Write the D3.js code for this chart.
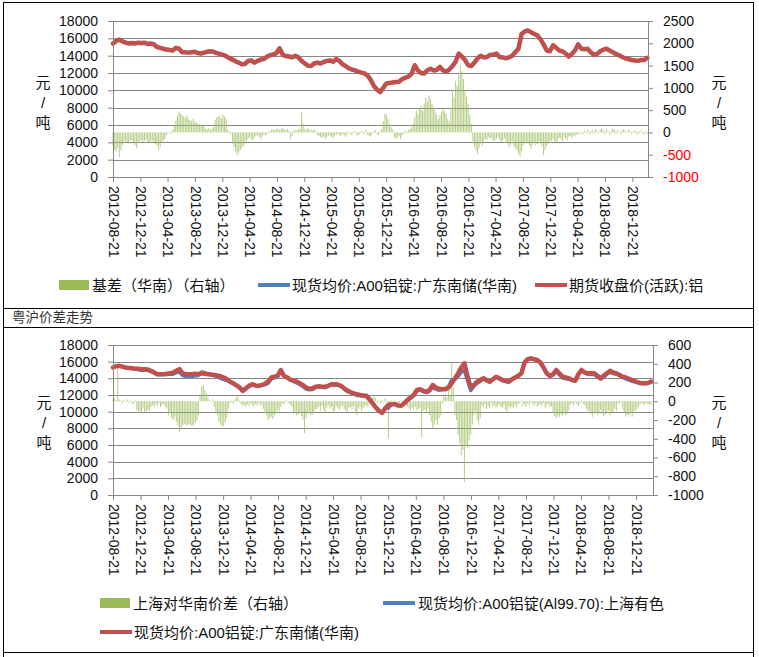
<!DOCTYPE html>
<html><head><meta charset="utf-8">
<script src="https://cdn.jsdelivr.net/npm/d3@7/dist/d3.min.js"></script>
<style>
body{margin:0;background:#fff}
svg{display:block}
text{font-family:"Liberation Sans","Noto Sans CJK SC",sans-serif}
</style>
</head><body>
<svg id="c" width="759" height="657"></svg>
<script>
// ---------------- data ----------------
const startDate = "2012-08-21";           // first observation
const lineStepDays = 14;                  // price series: one value every two weeks
const barStepDays = 7;                    // spread series: one value per week

const tickLabels = ["2012-08-21","2012-12-21","2013-04-21","2013-08-21","2013-12-21",
  "2014-04-21","2014-08-21","2014-12-21","2015-04-21","2015-08-21","2015-12-21",
  "2016-04-21","2016-08-21","2016-12-21","2017-04-21","2017-08-21","2017-12-21",
  "2018-04-21","2018-08-21","2018-12-21"];

const leftTicks = [0,2000,4000,6000,8000,10000,12000,14000,16000,18000];
const rightTicksTop = [-1000,-500,0,500,1000,1500,2000,2500];
const rightTicksBottom = [-1000,-800,-600,-400,-200,0,200,400,600];

// 期货收盘价(活跃):铝  (biweekly)
const futures = [
15400,15700,15850,15650,15500,15400,15450,15400,15500,15450,
15500,15350,15400,15300,15000,14900,14800,14700,14650,14600,
14900,14800,14400,14400,14350,14400,14450,14300,14250,14350,
14450,14500,14450,14300,14200,14100,13950,13700,13550,13350,
13200,13000,13050,13400,13450,13200,13400,13550,13600,13900,
14050,14150,14300,14850,14100,13950,13900,13800,14000,13800,
13400,13100,12850,12800,13100,13200,13100,13250,13400,13450,
13300,13600,13400,13000,12800,12550,12400,12300,12150,12050,
11950,11700,11200,10500,10100,9800,10300,10800,10850,10900,
10950,11000,11300,11450,11600,11900,12900,12300,12000,11950,
12300,12500,12300,12350,12700,12300,12150,12400,12800,13300,
14250,13900,13500,12900,12800,13200,13700,14000,13800,13850,
14100,14100,14250,13850,13800,13700,13800,14000,14400,14800,
16500,16800,16900,16700,16500,16350,15900,15300,14600,14500,
15200,14900,14600,14500,14250,13900,14200,14600,15300,14800,
14750,14800,14400,14100,14200,14500,14700,14800,14600,14400,
14200,14050,13850,13700,13600,13500,13450,13400,13500,13500,
13750];

// 现货均价:A00铝锭:广东南储(华南)  (biweekly)
const spotGD = [
15300,15450,15500,15400,15300,15250,15200,15150,15150,15100,
15100,15050,14900,14700,14500,14500,14500,14550,14600,14700,
14900,15100,14600,14500,14500,14500,14550,14500,14600,14550,
14500,14450,14400,14350,14250,14100,13900,13600,13400,13150,
12900,12500,12800,13100,13300,13150,13100,13200,13350,13600,
14100,14200,14300,15000,14300,14100,13850,13750,13600,13400,
13200,12900,12750,12800,13000,13050,13000,13000,13100,13300,
13300,13250,13100,12800,12550,12350,12200,12100,12000,11950,
11900,11500,11000,10500,10100,9850,10400,10800,10900,10900,
10750,10700,11000,11400,11700,12000,12600,12700,12500,12400,
12600,13200,12900,12750,12700,12700,12900,13400,14000,14600,
15300,15800,14200,12900,13200,13600,13800,14000,13800,13600,
13900,14200,14000,13800,13700,13600,13900,14100,14300,14600,
15900,16300,16400,16300,16200,15900,15300,14600,14300,14500,
15000,14600,14200,14100,14000,13800,13700,14500,15000,14700,
14600,14600,14600,14300,14000,14300,14600,14900,14700,14600,
14400,14200,14100,13950,13800,13650,13500,13400,13400,13450,
13600];

// 基差（华南） (weekly, right axis)
const basis = [
-300,-380,-420,-350,-550,-400,-280,
-200,-180,-220,-250,-190,-170,-230,-280,-360,-240,-200,-180,-210,-190,-160,-220,-250,-200,-180,-230,-260,-300,-400,-330,-220,-180,-150,
-60,-20,10,-30,
60,150,260,380,470,
430,400,360,330,380,300,280,260,300,240,220,200,180,150,160,130,
80,60,100,70,90,120,
280,340,360,380,320,400,360,300,
60,20,-30,
-250,-330,-420,-510,-460,-400,-350,-300,-250,-200,-150,
-100,-150,-180,-120,-80,-60,-100,-140,-90,-50,-70,-40,-20,
40,60,80,50,70,90,60,80,100,60,50,70,40,
-150,-80,
40,60,50,70,80,
450,200,
80,60,100,50,70,40,60,30,
-60,-80,-100,-120,-90,-150,-110,-80,-60,-100,-130,-70,-50,-40,
-50,-80,-30,-60,-100,-40,20,-30,-60,-20,40,-50,-70,-30,30,-20,-40,60,-60,-80,-100,-30,20,50,-40,-60,30,80,
250,420,380,300,200,120,60,
-100,-150,-120,-80,-150,-60,-30,40,-20,60,80,120,
200,350,490,420,550,600,480,650,790,700,830,760,640,560,490,400,300,
380,450,530,470,420,300,250,500,
940,800,1160,1050,1300,1500,1380,1200,940,800,640,400,190,
-200,-330,-400,-480,-350,-250,-300,-200,-140,-180,-100,-150,-120,-200,-180,-140,-100,-160,-220,-180,-130,-200,-250,-330,-280,-200,-300,-350,-400,-480,-550,-420,-300,-250,
-200,-250,-300,-360,-280,-220,-300,-260,-200,-250,-320,-510,-400,-300,-250,-200,-180,
-150,-200,-250,-180,-120,-150,-200,-100,-130,-180,-100,-80,-120,-60,-90,-50,-40,
-30,20,-50,40,-20,60,-40,30,50,-30,80,40,-20,60,100,50,-40,70,30,-60,40,90,60,-30,50,20,-50,40,80,30,-20,60,40,-40,20,50,-30,-60,30,40,-20,-50,20,-30];

// 上海对华南价差 (weekly, right axis)  = 上海 - 华南
const spreadSH = [
20,30,10,350,20,
10,-20,15,-10,20,-15,10,-20,-30,10,
-95,-120,-100,-130,-80,-110,-125,-90,-100,-60,
-40,-60,-30,-50,-20,-60,-45,-30,
-60,-80,-150,-120,-180,-200,-170,-220,-260,-325,-300,-260,-240,-250,-260,-240,-255,-260,-250,-230,-200,-150,
60,155,170,120,85,40,
10,-10,20,
-60,-110,-150,-220,-250,-270,-260,-220,-180,-80,
-20,10,-30,20,40,50,-10,-30,-50,-40,-60,-30,-50,-20,-40,-60,-30,-45,-20,-50,-30,
-80,-110,-150,-200,-180,-165,-190,-150,-120,-95,-110,-60,
-20,-30,10,-10,-20,-40,-60,
-130,-110,-150,-140,-120,-160,-200,-340,-180,-130,-110,-150,-140,-120,-90,
-80,-60,-100,-50,-90,-120,-70,-40,-80,-60,-110,-100,-50,-70,-90,-60,-40,-80,-100,-120,-70,-60,-90,-50,-110,-150,-80,-60,-100,-70,-50,-40,-60,
-20,20,40,50,30,-20,10,-30,20,-10,30,-20,
-395,
-20,10,-30,20,-10,-40,-20,10,-30,-20,-40,
-60,-80,-100,-70,-90,-60,-100,-80,-70,
-380,
-100,-90,-120,-80,
-150,-220,-290,-250,-200,-250,-180,-150,
-30,50,80,40,120,60,420,150,
-150,-200,-360,-450,-575,-520,-860,-470,-500,-420,-360,-250,-150,-100,-200,-250,-180,
-40,-60,-30,-80,-50,-70,-20,-60,-40,-80,-50,-30,-60,-70,-40,-90,-110,-60,-80,-50,-70,-40,-60,-30,
-20,10,-50,-30,-60,-20,-40,10,-30,-50,-20,-60,-40,-30,-50,-20,-70,-40,-30,-60,-50,
-120,-160,-180,-150,-170,-140,-160,-120,-150,-130,-100,
-30,-20,-40,-10,-30,-50,-20,10,-30,-40,
-80,-120,-100,-140,-165,-130,-110,-150,-120,-90,-130,-160,-140,-110,-100,-150,-130,-120,-80,-100,
-20,-30,-10,
-90,-120,-165,-140,-150,-130,-165,-120,-100,-80,-60,
-30,-20,-40,-30,-20,-30,-40,-30];

// ---------------- drawing ----------------
const COL = {red:"#c0504d", blue:"#4f81bd", green:"#9bbb59", grid:"#878787", text:"#111"};
const svg = d3.select("#c");
const parse = d3.utcParse("%Y-%m-%d");
const t0 = parse(startDate);
const lineDate = j => d3.utcDay.offset(t0, lineStepDays * j);
const barDate = k => d3.utcDay.offset(t0, barStepDays * k);

// frames
const frame = svg.append("g").attr("stroke","#000").attr("stroke-width",1);
[[3.5,2,3.5,657],[753.5,2,753.5,657],[3,2.5,754,2.5],[3,308.5,754,308.5],[3,327.5,754,327.5],[3,652.5,754,652.5]]
  .forEach(l => frame.append("line").attr("x1",l[0]).attr("y1",l[1]).attr("x2",l[2]).attr("y2",l[3]));
svg.append("text").attr("x",12).attr("y",322).attr("font-size",13.5).attr("fill","#333").text("粤沪价差走势");

function drawPanel(p) {
  const x = d3.scaleUtc().domain([t0, parse(p.xEnd)]).range([p.x0, p.x1]);
  const yL = d3.scaleLinear().domain([0,18000]).range([p.y1, p.y0]);
  const yR = d3.scaleLinear().domain(p.rDomain).range([p.y1, p.y0]);
  const g = svg.append("g");

  g.append("g").selectAll("line").data(leftTicks).join("line")
    .attr("x1",p.x0).attr("x2",p.x1)
    .attr("y1",d=>Math.round(yL(d))+0.5).attr("y2",d=>Math.round(yL(d))+0.5)
    .attr("stroke",COL.grid).attr("stroke-width",1);

  g.append("g").selectAll("rect").data(p.bars).join("rect")
    .attr("x",(d,k)=>x(barDate(k))-0.5).attr("width",1.0)
    .attr("y",d=>Math.min(yR(d),yR(0))).attr("height",d=>Math.abs(yR(d)-yR(0)))
    .attr("fill",COL.green).attr("opacity",0.75);

  p.lines.forEach(l => {
    g.append("path").datum(l.data)
      .attr("d", d3.line().x((d,j)=>x(lineDate(j))).y((d,j)=>yL(l.value(d,j))))
      .attr("fill","none").attr("stroke",l.color).attr("stroke-width",l.width)
      .attr("stroke-linejoin","round").attr("stroke-linecap","round");
  });

  const styleAxis = a => {
    a.selectAll("path,line").attr("stroke",COL.grid);
    a.selectAll("text").attr("font-size",14).attr("fill",COL.text)
      .attr("font-family",'"Liberation Sans",sans-serif');
  };
  const ax = g.append("g").attr("transform",`translate(${p.x0},0)`)
    .call(d3.axisLeft(yL).tickValues(leftTicks).tickSize(5).tickSizeOuter(0).tickPadding(10).tickFormat(d=>String(d)));
  styleAxis(ax);
  const ar = g.append("g").attr("transform",`translate(${p.x1},0)`)
    .call(d3.axisRight(yR).tickValues(p.rTicks).tickSize(5).tickSizeOuter(0).tickPadding(10).tickFormat(d=>String(d)));
  styleAxis(ar);
  ar.selectAll("text").attr("fill",d=>p.rColor(d));
  const ab = g.append("g").attr("transform",`translate(0,${p.y1})`)
    .call(d3.axisBottom(x).tickValues(tickLabels.map(parse)).tickSize(5).tickSizeOuter(0).tickFormat(d3.utcFormat("%Y-%m-%d")));
  styleAxis(ab);
  ab.select(".domain").attr("d",`M${p.x0},0.5H${p.x1}`);
  ab.selectAll("text").attr("transform","rotate(90)").attr("y",0).attr("x",9)
    .attr("dy","0.35em").style("text-anchor","start");

  // unit labels 元/吨
  [p.unitLX, p.unitRX].forEach(ux => {
    ["元","/","吨"].forEach((ch,i) => {
      g.append("text").attr("x",ux).attr("y",p.unitY + i*20).attr("text-anchor","middle")
        .attr("font-size",15).attr("fill",COL.text).text(ch);
    });
  });
}

drawPanel({
  x0:113, x1:648, y0:21, y1:177, xEnd:"2019-03-01",
  rDomain:[-1000,2500], rTicks:rightTicksTop, rColor:d=>d<0?"#ff0000":COL.text,
  bars: basis,
  lines:[
    {data:futures, value:d=>d, color:COL.blue, width:3.5},   // spot line lies under the futures line
    {data:futures, value:d=>d, color:COL.red, width:4.5}
  ],
  unitLX:43, unitRX:719, unitY:88
});

drawPanel({
  x0:113, x1:653, y0:345, y1:495, xEnd:"2019-03-06",
  rDomain:[-1000,600], rTicks:rightTicksBottom, rColor:()=>COL.text,
  bars: spreadSH,
  lines:[
    {data:spotGD, value:(d,j)=>d + (spreadSH[2*j] ?? 0), color:COL.blue, width:3.5},
    {data:spotGD, value:d=>d, color:COL.red, width:4.5}
  ],
  unitLX:44, unitRX:719, unitY:408
});

// legends
function legend(items) {
  items.forEach(it => {
    if (it.type === "rect") {
      svg.append("rect").attr("x",it.x).attr("y",it.y-5).attr("width",30).attr("height",10).attr("fill",COL.green);
    } else {
      svg.append("line").attr("x1",it.x).attr("x2",it.x+32).attr("y1",it.y).attr("y2",it.y)
        .attr("stroke",it.color).attr("stroke-width",4);
    }
    svg.append("text").attr("x",it.tx).attr("y",it.y+5.5).attr("font-size",15).attr("fill",COL.text).text(it.label);
  });
}
legend([
  {type:"rect", x:59, y:285, tx:92, label:"基差（华南）（右轴）"},
  {type:"line", x:258, y:285, color:COL.blue, tx:292, label:"现货均价:A00铝锭:广东南储(华南)"},
  {type:"line", x:535, y:285, color:COL.red, tx:569, label:"期货收盘价(活跃):铝"},
  {type:"rect", x:100, y:603, tx:133, label:"上海对华南价差（右轴）"},
  {type:"line", x:383, y:603, color:COL.blue, tx:418, label:"现货均价:A00铝锭(Al99.70):上海有色"},
  {type:"line", x:100, y:632, color:COL.red, tx:134, label:"现货均价:A00铝锭:广东南储(华南)"}
]);
</script>
</body></html>
